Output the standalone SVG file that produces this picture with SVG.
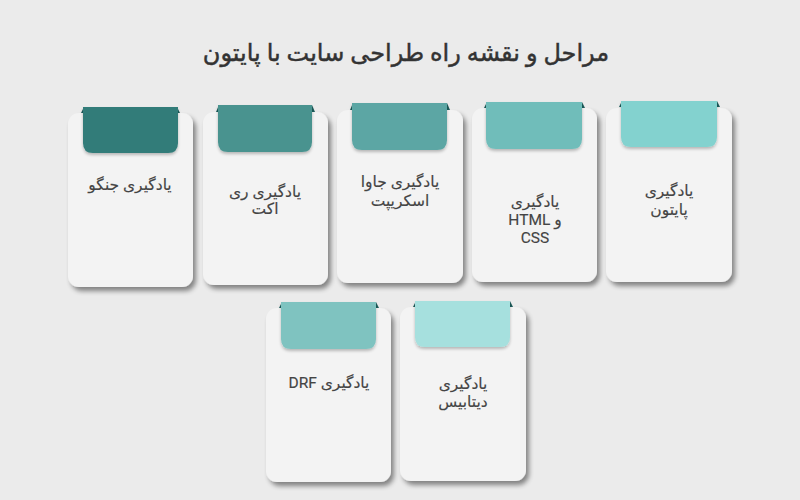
<svg xmlns="http://www.w3.org/2000/svg" width="800" height="500" viewBox="0 0 800 500">
<defs>
<filter id="sh" x="-20%" y="-20%" width="150%" height="150%">
<feGaussianBlur in="SourceAlpha" stdDeviation="2.5"/>
<feOffset dx="3" dy="4" result="b"/>
<feComponentTransfer><feFuncA type="linear" slope="0.45"/></feComponentTransfer>
<feMerge><feMergeNode/><feMergeNode in="SourceGraphic"/></feMerge>
</filter>
<filter id="tsh" x="-20%" y="-20%" width="140%" height="150%">
<feGaussianBlur in="SourceAlpha" stdDeviation="1.5"/>
<feOffset dx="0" dy="2" result="b"/>
<feComponentTransfer><feFuncA type="linear" slope="0.25"/></feComponentTransfer>
<feMerge><feMergeNode/><feMergeNode in="SourceGraphic"/></feMerge>
</filter>
</defs>
<style>
.card{fill:#f3f3f3;filter:url(#sh)}
.fold{fill:#1d5c5b}
.lbl{font-family:Roboto,"DejaVu Sans",sans-serif;font-size:15.5px;fill:#444;text-anchor:middle;direction:rtl;stroke:#444;stroke-width:0.15}
.title{font-family:Roboto,"DejaVu Sans",sans-serif;font-size:24px;fill:#333;text-anchor:middle;direction:rtl;stroke:#333;stroke-width:0.45}
</style>
<rect width="800" height="500" fill="#ebebeb"/>
<text class="title" x="406" y="61">مراحل و نقشه راه طراحی سایت با پایتون</text>

<g id="django">
<rect class="card" x="68" y="113" width="125" height="174" rx="11"/>
<polygon class="fold" points="81,113 84,107 87,113"/>
<polygon class="fold" points="174,113 177,107 180,113"/>
<path filter="url(#tsh)" fill="#317b79" d="M83,107 H178 V143 Q178,153 168,153 H93 Q83,153 83,143 Z"/>
<text class="lbl" x="130" y="190">یادگیری جنگو</text>
</g>

<g id="react">
<rect class="card" x="203" y="112" width="125" height="173" rx="11"/>
<polygon class="fold" points="216,112 219,105 222,112"/>
<polygon class="fold" points="309,112 312,105 315,112"/>
<path filter="url(#tsh)" fill="#4a938f" d="M218,105 H312 V142 Q312,152 302,152 H228 Q218,152 218,142 Z"/>
<text class="lbl" x="265" y="197">یادگیری ری</text>
<text class="lbl" x="265" y="214">اکت</text>
</g>

<g id="javascript">
<rect class="card" x="337" y="110" width="126" height="173" rx="11"/>
<polygon class="fold" points="350,110 353,103 356,110"/>
<polygon class="fold" points="444,110 447,103 450,110"/>
<path filter="url(#tsh)" fill="#5ba6a4" d="M352,103 H447 V140 Q447,150 437,150 H362 Q352,150 352,140 Z"/>
<text class="lbl" x="400" y="187">یادگیری جاوا</text>
<text class="lbl" x="400" y="206">اسکریپت</text>
</g>

<g id="html-css">
<rect class="card" x="472" y="108" width="125" height="174" rx="11"/>
<polygon class="fold" points="484,108 487,102 490,108"/>
<polygon class="fold" points="579,108 582,102 585,108"/>
<path filter="url(#tsh)" fill="#70bdba" d="M486,102 H582 V139 Q582,149 572,149 H496 Q486,149 486,139 Z"/>
<text class="lbl" x="535" y="207">یادگیری</text>
<text class="lbl" x="535" y="225">و HTML</text>
<text class="lbl" x="535" y="243">CSS</text>
</g>

<g id="python">
<rect class="card" x="606" y="108" width="126" height="174" rx="11"/>
<polygon class="fold" points="619,107 622,101 625,107"/>
<polygon class="fold" points="714,107 717,101 720,107"/>
<path filter="url(#tsh)" fill="#83d2cf" d="M621,101 H717 V137 Q717,147 707,147 H631 Q621,147 621,137 Z"/>
<text class="lbl" x="669" y="196">یادگیری</text>
<text class="lbl" x="669" y="215">پایتون</text>
</g>

<g id="drf">
<rect class="card" x="266" y="308" width="125" height="174" rx="11"/>
<polygon class="fold" points="279,308 282,302 285,308"/>
<polygon class="fold" points="373,308 376,302 379,308"/>
<path filter="url(#tsh)" fill="#7fc3c0" d="M281,302 H376 V339 Q376,349 366,349 H291 Q281,349 281,339 Z"/>
<text class="lbl" x="329" y="388">یادگیری DRF</text>
</g>

<g id="database">
<rect class="card" x="400" y="307" width="126" height="174" rx="11"/>
<polygon class="fold" points="413,307 416,301 419,307"/>
<polygon class="fold" points="507,307 510,301 513,307"/>
<path filter="url(#tsh)" fill="#a6e0de" d="M415,301 H510 V337 Q510,347 500,347 H425 Q415,347 415,337 Z"/>
<text class="lbl" x="463" y="389">یادگیری</text>
<text class="lbl" x="463" y="407">دیتابیس</text>
</g>

<g id="connectors"></g>
</svg>
